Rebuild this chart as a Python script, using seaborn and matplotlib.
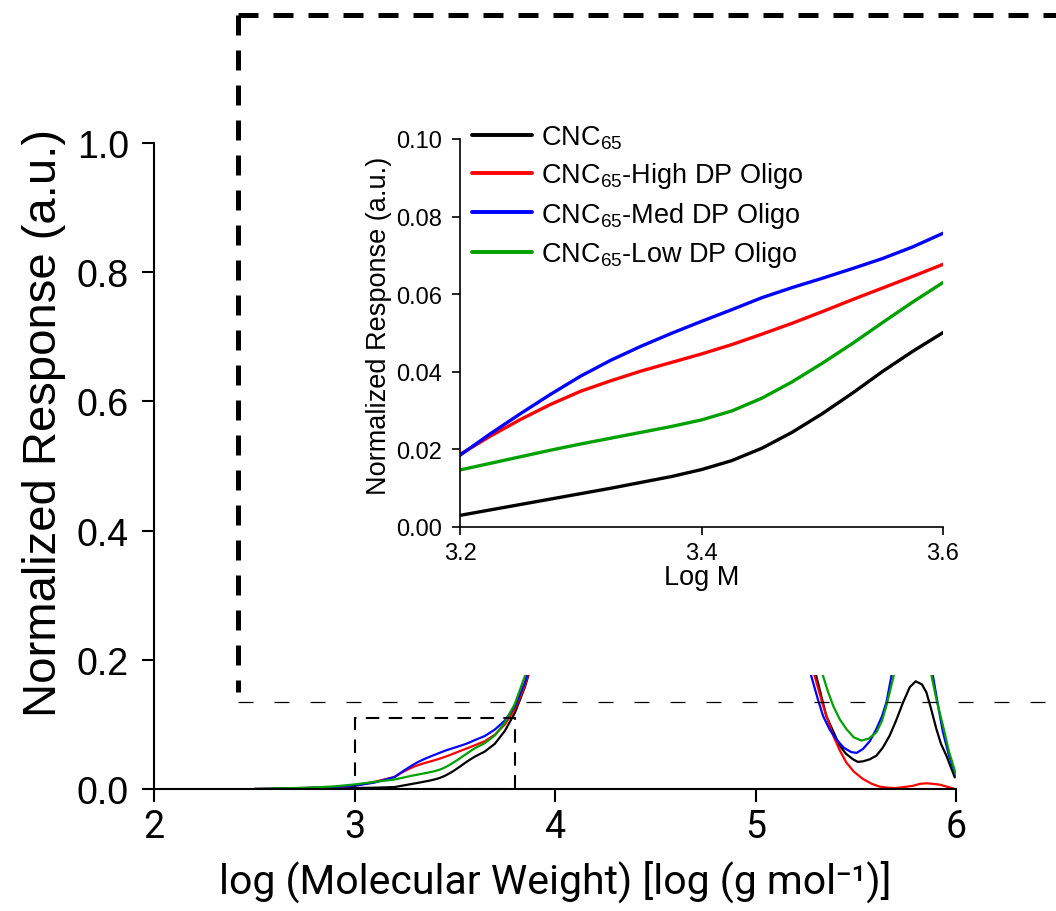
import numpy as np
import pandas as pd
import matplotlib
matplotlib.use("Agg")
import matplotlib.pyplot as plt
import seaborn as sns
from matplotlib.patches import Rectangle
from matplotlib.lines import Line2D

# series names and colours
labels = ["CNC$_{65}$", "CNC$_{65}$-High DP Oligo", "CNC$_{65}$-Med DP Oligo", "CNC$_{65}$-Low DP Oligo"]
colors = ["#000000", "#FF0000", "#0000FF", "#00A000"]

# shared x positions (log M)
x_low = [2.5, 2.6, 2.7, 2.8, 2.9, 3.0, 3.1]
x_zoom = [3.200, 3.225, 3.250, 3.275, 3.300, 3.325, 3.350, 3.375, 3.400,
          3.425, 3.450, 3.475, 3.500, 3.525, 3.550, 3.575, 3.600]
x_rise = [3.65, 3.70, 3.75, 3.80, 3.85, 3.90]
x_mid = [4.0, 4.2, 4.4, 4.5, 4.6, 4.8, 5.0, 5.2]

# CNC65
black_low = [0.0, 0.0, 0.0002, 0.0005, 0.001, 0.0015, 0.002]
black_zoom = [0.0030, 0.0044, 0.0058, 0.0072, 0.0086, 0.0100, 0.0115, 0.0130, 0.0148,
              0.0171, 0.0203, 0.0244, 0.0292, 0.0345, 0.0401, 0.0453, 0.0501]
black_rise = [0.058, 0.070, 0.090, 0.118, 0.158, 0.21]
black_mid = [0.38, 0.72, 0.95, 1.0, 0.96, 0.78, 0.55, 0.30]
black_x_high = [5.303, 5.353, 5.42, 5.45, 5.486, 5.51, 5.536, 5.57, 5.603, 5.635, 5.669, 5.70,
                5.736, 5.77, 5.799, 5.83, 5.852, 5.875, 5.902, 5.925, 5.952, 5.994]
black_y_high = [0.175, 0.113, 0.067, 0.055, 0.046, 0.042, 0.0428, 0.046, 0.0516, 0.064, 0.0825, 0.105,
                0.134, 0.158, 0.1667, 0.162, 0.150, 0.125, 0.093, 0.070, 0.0516, 0.018]

# High DP oligo
red_low = [0.0, 0.0005, 0.001, 0.002, 0.003, 0.005, 0.011]
red_zoom = [0.0187, 0.0234, 0.0277, 0.0316, 0.0350, 0.0377, 0.0402, 0.0424, 0.0446,
            0.0470, 0.0497, 0.0525, 0.0555, 0.0586, 0.0616, 0.0646, 0.0677]
red_rise = [0.074, 0.084, 0.100, 0.124, 0.160, 0.215]
red_mid = [0.36, 0.70, 0.94, 1.0, 0.97, 0.80, 0.58, 0.28]
red_x_high = [5.295, 5.337, 5.387, 5.42, 5.453, 5.49, 5.536, 5.58, 5.62, 5.66, 5.70, 5.74,
              5.786, 5.82, 5.852, 5.885, 5.919, 5.95, 5.986]
red_y_high = [0.175, 0.129, 0.083, 0.060, 0.041, 0.027, 0.0155, 0.008, 0.0036, 0.002, 0.0015, 0.003,
              0.005, 0.008, 0.0088, 0.008, 0.0067, 0.004, 0.001]

# Med DP oligo
blue_low = [0.0, 0.0005, 0.001, 0.002, 0.003, 0.005, 0.010]
blue_zoom = [0.0185, 0.0240, 0.0292, 0.0342, 0.0389, 0.0430, 0.0466, 0.0499, 0.0530,
             0.0560, 0.0591, 0.0617, 0.0641, 0.0666, 0.0692, 0.0722, 0.0757]
blue_rise = [0.082, 0.092, 0.106, 0.128, 0.165, 0.22]
blue_mid = [0.39, 0.73, 0.95, 1.0, 0.96, 0.78, 0.54, 0.30]
blue_x_high = [5.278, 5.31, 5.337, 5.37, 5.403, 5.44, 5.478, 5.505, 5.536, 5.57, 5.603, 5.63,
               5.653, 5.678, 5.72, 5.78, 5.83, 5.885, 5.91, 5.935, 5.965, 6.0]
blue_y_high = [0.175, 0.14, 0.113, 0.092, 0.077, 0.064, 0.057, 0.056, 0.062, 0.074, 0.093, 0.112,
               0.134, 0.175, 0.26, 0.32, 0.28, 0.175, 0.13, 0.0877, 0.052, 0.0206]

# Low DP oligo
green_low = [0.0, 0.0008, 0.0015, 0.0025, 0.004, 0.007, 0.011]
green_zoom = [0.0147, 0.0164, 0.0181, 0.0198, 0.0214, 0.0229, 0.0244, 0.0259, 0.0276,
              0.0299, 0.0332, 0.0374, 0.0422, 0.0473, 0.0527, 0.0580, 0.0630]
green_rise = [0.071, 0.083, 0.103, 0.132, 0.175, 0.23]
green_mid = [0.40, 0.74, 0.96, 1.0, 0.96, 0.79, 0.56, 0.33]
green_x_high = [5.337, 5.36, 5.387, 5.42, 5.453, 5.49, 5.528, 5.565, 5.603, 5.63, 5.653, 5.689,
                5.73, 5.78, 5.83, 5.878, 5.905, 5.935, 5.965, 6.0]
green_y_high = [0.175, 0.152, 0.129, 0.108, 0.093, 0.080, 0.075, 0.078, 0.0877, 0.105, 0.129, 0.175,
                0.27, 0.34, 0.30, 0.175, 0.135, 0.098, 0.058, 0.022]


def make_frame(label, low, zoom, rise, mid, x_high, y_high):
    xs = x_low + x_zoom + x_rise + x_mid + x_high
    ys = low + zoom + rise + mid + y_high
    return pd.DataFrame({"x": xs, "y": ys, "series": label})


df = pd.concat([
    make_frame(labels[0], black_low, black_zoom, black_rise, black_mid, black_x_high, black_y_high),
    make_frame(labels[1], red_low, red_zoom, red_rise, red_mid, red_x_high, red_y_high),
    make_frame(labels[2], blue_low, blue_zoom, blue_rise, blue_mid, blue_x_high, blue_y_high),
    make_frame(labels[3], green_low, green_zoom, green_rise, green_mid, green_x_high, green_y_high),
], ignore_index=True)

palette = dict(zip(labels, colors))

sns.set_style("ticks")
plt.rcParams["font.family"] = ["Liberation Sans", "DejaVu Sans"]
plt.rcParams["mathtext.default"] = "regular"
plt.rcParams["axes.unicode_minus"] = False
for key in ["text.color", "axes.labelcolor", "xtick.color", "ytick.color"]:
    plt.rcParams[key] = "black"
narrow = ["Roboto", "DejaVu Sans"]

fig = plt.figure(figsize=(10.56, 9.12), dpi=100)
W, H = 1056, 912

# main axes
ax = fig.add_axes([154 / W, 1 - 790 / H, 802 / W, 646 / H])
sns.lineplot(data=df, x="x", y="y", hue="series", palette=palette, estimator=None,
             sort=False, legend=False, linewidth=1.6, ax=ax)
ax.set_xlim(2, 6)
ax.set_ylim(0, 1.0)
ax.set_xticks([2, 3, 4, 5, 6])
ax.set_yticks([0.0, 0.2, 0.4, 0.6, 0.8, 1.0])
ax.set_yticklabels(["0.0", "0.2", "0.4", "0.6", "0.8", "1.0"], fontsize=27)
ax.set_xticklabels(["2", "3", "4", "5", "6"], fontsize=27, family=narrow)
for s in ["top", "right"]:
    ax.spines[s].set_visible(False)
for s in ["left", "bottom"]:
    ax.spines[s].set_linewidth(1.5)
    ax.spines[s].set_color("black")
ax.tick_params(direction="out", length=9, width=1.5, color="black")
ax.tick_params(axis="y", pad=9)
ax.tick_params(axis="x", pad=5)
ax.set_xlabel("log (Molecular Weight) [log (g mol\u207b\u00b9)]", fontsize=29.5, family=narrow, labelpad=10)
ax.set_ylabel("Normalized Response (a.u.)", fontsize=34)
ax.yaxis.set_label_coords(-0.110, 0.568)

# small dashed box around the zoomed region
ax.add_patch(Rectangle((3.0, 0.0), 0.8, 0.11, fill=False, edgecolor="black", linewidth=1.5,
                       linestyle=(0, (6.5, 4.5)), zorder=3))

# white backdrop for the inset with dashed outline
fig.add_artist(Rectangle((238 / W, 1 - 676 / H), 1 - 238 / W, (676 - 16) / H,
                         transform=fig.transFigure, facecolor="white", edgecolor="none", zorder=1))
fig.add_artist(Line2D([238 / W, 238 / W], [1 - 16 / H, 1 - 693 / H], transform=fig.transFigure,
                      color="black", linewidth=3.6, linestyle=(0, (4, 3)), zorder=1.5))
fig.add_artist(Line2D([238 / W, 1.0], [1 - 16 / H, 1 - 16 / H], transform=fig.transFigure,
                      color="black", linewidth=3.6, linestyle=(0, (4, 3)), zorder=1.5))
fig.add_artist(Line2D([238 / W, 1.0], [1 - 703 / H, 1 - 703 / H], transform=fig.transFigure,
                      color="black", linewidth=0.9, linestyle=(0, (12, 16.8)), zorder=1.5))

# inset axes
axi = fig.add_axes([460 / W, 1 - 528 / H, 483 / W, 388 / H])
axi.set_zorder(2)
axi.patch.set_alpha(0)
sns.lineplot(data=df, x="x", y="y", hue="series", palette=palette, estimator=None,
             sort=False, linewidth=2.4, ax=axi)
axi.set_xlim(3.2, 3.6)
axi.set_ylim(0, 0.10)
axi.set_xticks([3.2, 3.4, 3.6])
axi.set_xticklabels(["3.2", "3.4", "3.6"], fontsize=17)
axi.set_yticks([0.0, 0.02, 0.04, 0.06, 0.08, 0.10])
axi.set_yticklabels(["0.00", "0.02", "0.04", "0.06", "0.08", "0.10"], fontsize=17)
for s in ["top", "right"]:
    axi.spines[s].set_visible(False)
for s in ["left", "bottom"]:
    axi.spines[s].set_linewidth(1.2)
    axi.spines[s].set_color("black")
axi.tick_params(direction="out", length=6, width=1.2, color="black")
axi.tick_params(axis="y", pad=7)
axi.tick_params(axis="x", pad=5)
axi.set_xlabel("Log M", fontsize=19.5, labelpad=0)
axi.set_ylabel("Normalized Response (a.u.)", fontsize=19.5)
axi.yaxis.set_label_coords(-0.141, 0.52)

leg = axi.legend(loc="upper left", bbox_to_anchor=(0.025, 1.04), frameon=False, fontsize=19.5,
                 handlelength=2.2, handletextpad=0.33, labelspacing=0.35, borderpad=0,
                 borderaxespad=0)
for line in leg.get_lines():
    line.set_linewidth(2.8)

fig.savefig("out.png", dpi=100)
